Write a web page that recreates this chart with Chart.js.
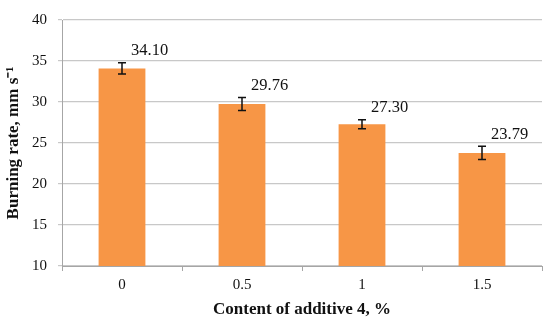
<!DOCTYPE html>
<html>
<head>
<meta charset="utf-8">
<script src="https://cdn.jsdelivr.net/npm/chart.js@4"></script>
<style>
  html, body { margin: 0; padding: 0; background: #fff; }
  .bar-graph { width: 550px; height: 324px; }
</style>
</head>
<body>
<div class="bar-graph"><canvas id="myChart"></canvas></div>
<script>
// values
const categories = ['0', '0.5', '1', '1.5']
const burningRate = [34.10, 29.76, 27.30, 23.79]
const errorMargins = [0.7, 0.8, 0.55, 0.8]
const yMin = 10
const yMax = 40
const yStep = 5

const serif = 'Liberation Serif'

// error bars + value labels, drawn through the y scale
const errorBars = {
  id: 'errorBars',
  afterDatasetsDraw(chart) {
    const ctx = chart.ctx
    const y = chart.scales.y
    const meta = chart.getDatasetMeta(0)
    ctx.save()
    meta.data.forEach((bar, i) => {
      const top = y.getPixelForValue(burningRate[i] + errorMargins[i])
      const bottom = y.getPixelForValue(burningRate[i] - errorMargins[i])
      ctx.strokeStyle = '#111'
      ctx.lineWidth = 1.5
      ctx.beginPath()
      ctx.moveTo(bar.x, top)
      ctx.lineTo(bar.x, bottom)
      ctx.moveTo(bar.x - 4, top)
      ctx.lineTo(bar.x + 4, top)
      ctx.moveTo(bar.x - 4, bottom)
      ctx.lineTo(bar.x + 4, bottom)
      ctx.stroke()

      ctx.fillStyle = '#111'
      ctx.font = '16.5px "' + serif + '"'
      ctx.textAlign = 'left'
      ctx.textBaseline = 'middle'
      ctx.fillText(burningRate[i].toFixed(2), bar.x + 9, top - 12)
    })
    ctx.restore()
  }
}

new Chart(document.querySelector('#myChart'), {
  type: 'bar',
  data: {
    labels: categories,
    datasets: [{
      label: 'Burning rate',
      data: burningRate,
      backgroundColor: '#F79646',
      borderWidth: 0,
      barPercentage: 0.39,
      categoryPercentage: 1.0
    }]
  },
  options: {
    responsive: true,
    maintainAspectRatio: false,
    animation: false,
    layout: { padding: { top: 11, right: 8, left: 0, bottom: 0 } },
    plugins: {
      legend: { display: false },
      tooltip: { enabled: false }
    },
    scales: {
      x: {
        afterFit: s => { s.height = 58 },
        grid: {
          offset: true,
          drawOnChartArea: false,
          drawTicks: true,
          tickLength: 5,
          color: '#a6a6a6'
        },
        border: { color: '#a6a6a6' },
        ticks: {
          color: '#111',
          padding: 5,
          font: { family: serif, size: 15 }
        },
        title: {
          display: true,
          text: 'Content of additive 4, %',
          color: '#111',
          padding: { top: 0, bottom: 4 },
          font: { family: serif, size: 17, weight: 'bold' }
        }
      },
      y: {
        min: yMin,
        max: yMax,
        afterFit: s => { s.width = 62 },
        ticks: {
          stepSize: yStep,
          color: '#111',
          padding: 11,
          font: { family: serif, size: 15 }
        },
        grid: {
          color: '#c8c8c8',
          tickLength: 4,
          lineWidth: 1.2
        },
        border: { color: '#a6a6a6' },
        title: {
          display: true,
          text: 'Burning rate, mm s\u207B\u00B9',
          color: '#111',
          padding: { top: 3, bottom: 0 },
          font: { family: serif, size: 17, weight: 'bold' }
        }
      }
    }
  },
  plugins: [errorBars]
})
</script>
</body>
</html>
